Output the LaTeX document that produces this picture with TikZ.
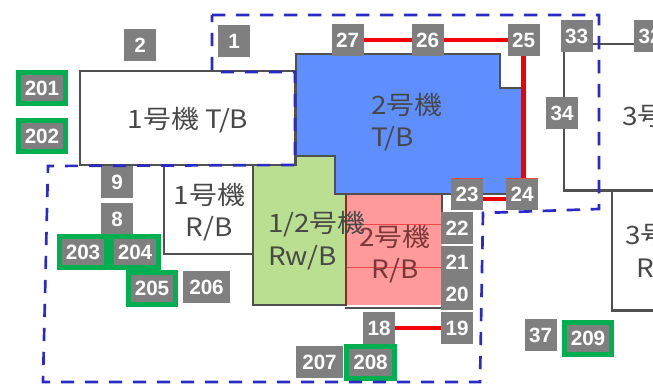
\documentclass[tikz,border=0pt]{standalone}
\usepackage{fontspec}
\setmainfont[FakeStretch=1.1]{Noto Sans CJK JP}
\newfontfamily\labfont{Liberation Sans}
\definecolor{tagc}{HTML}{7F7F7F}
\definecolor{greenc}{HTML}{00B050}
\definecolor{wallc}{HTML}{505050}
\definecolor{textc}{HTML}{484848}
\definecolor{pinktext}{HTML}{7A3838}
\definecolor{dashc}{HTML}{2A2AC8}
\definecolor{redc}{HTML}{F00000}
\definecolor{blueb}{HTML}{5F8FFF}
\definecolor{greenb}{HTML}{BADF90}
\definecolor{pinkb}{HTML}{FF9A9A}
\definecolor{hairc}{HTML}{F04848}
\definecolor{pinkwall}{HTML}{8B2A2A}
\tikzset{x=0.75pt,y=-0.75pt,
  tag/.style={fill=tagc,text=white,inner sep=0pt,outer sep=0pt,minimum width=#1*0.75pt,minimum height=32*0.75pt,font=\labfont\bfseries\fontsize{15.5}{15.5}\selectfont},
  tag/.default=32,
  gtag/.style={fill=tagc,draw=greenc,line width=3.4pt,text=white,inner sep=0pt,outer sep=0pt,minimum width=47.5*0.75pt,minimum height=31.5*0.75pt,font=\labfont\bfseries\fontsize{15.5}{15.5}\selectfont},
  bld/.style={draw=wallc,line width=2pt,line join=miter},
  title/.style={text=textc,font=\fontsize{19}{25.5}\selectfont,inner sep=0pt,outer sep=0pt},
  dashb/.style={draw=dashc,line width=2pt,dash pattern=on 10pt off 8pt},
  redl/.style={draw=redc,line width=3.4pt},
  hair/.style={draw=hairc,line width=0.4pt}}
\begin{document}
\begin{tikzpicture}
\useasboundingbox (0,0) rectangle (653,384);
% buildings
\draw[bld] (80,71) rectangle (295,165);
\draw[bld] (164,165) -- (164,254) -- (253,254);
\draw[bld,fill=greenb] (253,165) -- (296,165) -- (296,156) -- (335,156) -- (335,194) -- (346,194) -- (346,305) -- (253,305) -- cycle;
\fill[pinkb] (346,194) rectangle (442,305.5);
\draw[draw=pinkwall,line width=1.3pt] (346,194) -- (346,306);
\draw[hair] (347,224) -- (442,224);
\draw[hair] (347,267) -- (442,267);
\draw[bld] (346,194) -- (442,194) -- (442,213);
\draw[bld] (345,308) -- (442,308);
\draw[bld,fill=blueb] (296,54) -- (500,54) -- (500,88) -- (523,88) -- (523,194) -- (335,194) -- (335,156) -- (296,156) -- cycle;
\draw[bld] (564,45) -- (564,190.5) -- (653,190.5);
\draw[bld] (612,190.5) -- (612,310.5) -- (653,310.5);
% titles
\node[title,anchor=center] (t1) at (188,120) {1号機 T/B};
\node[title,anchor=west] (t2a) at (371,105) {2号機};
\node[title,anchor=west] (t2b) at (371,139) {T/B};
\node[title,anchor=center] (t3a) at (209.5,195) {1号機};
\node[title,anchor=center] (t3b) at (209,229) {R/B};
\node[title,anchor=west] (t4a) at (268,224) {1/2号機};
\node[title,anchor=west] (t4b) at (268,258) {Rw/B};
\node[title,anchor=center,text=pinktext] (t5a) at (395,237) {2号機};
\node[title,anchor=center,text=pinktext] (t5b) at (395,271) {R/B};
\node[title,anchor=west] (t6) at (622,116) {3号機};
\node[title,anchor=west] (t7a) at (625,235) {3号機};
\node[title,anchor=west] (t7b) at (636,270) {R/B};
% tags
\node[tag] (n1) at (234,41) {1};
\node[tag] (n2) at (140,45) {2};
\node[tag] (n9) at (117,182.5) {9};
\node[tag=32] (n8) at (117,219) {8};
\node[tag=47] (n206) at (206.5,287.5) {206};
\node[tag=47] (n207) at (319.5,362) {207};
\node[tag] (n18) at (379,328) {18};
\node[tag] (n19) at (457,328) {19};
\node[tag] (n20) at (457,294) {20};
\node[tag] (n21) at (457,262) {21};
\node[tag] (n22) at (457,228.5) {22};
\node[tag] (n23) at (467,194) {23};
\node[tag] (n24) at (522,194) {24};
\node[tag] (n25) at (523.5,40) {25};
\node[tag] (n26) at (427.5,40) {26};
\node[tag] (n27) at (347.5,40) {27};
\node[tag] (n33) at (576.5,36) {33};
\node[tag] (n32) at (650,36) {32};
\node[tag] (n34) at (562,113) {34};
\node[tag] (n37) at (540.5,335) {37};
\node[gtag] (n201) at (42,88) {201};
\node[gtag] (n202) at (42,136) {202};
\node[gtag] (n203) at (83,252) {203};
\node[gtag] (n204) at (135,252) {204};
\node[gtag] (n205) at (152,288.5) {205};
\node[gtag] (n208) at (370.5,362.5) {208};
\node[gtag] (n209) at (588,338.5) {209};
% thin outlines on 23, 24
\draw[hair] (n23.north west) -- (n23.north east);
\draw[hair] (n24.north west) -- (n24.north east);
% connectors
\draw[redl] (n27) -- (n26);
\draw[redl] (n26) -- (n25);
\draw[redl] (n25.south) -- (n25.south |- n24.north);
\draw[redl] ([yshift=-3.75pt]n23.east) -- ([yshift=-3.75pt]n24.west);
\draw[redl] (n18) -- (n19);
\draw[bld] ([yshift=-6pt]n33.east) -- ([yshift=-6pt]n32.west);
% dashed
\draw[dashb] (212,15) -- (599,15) -- (599,209) -- (483,213) -- (480,382) -- (43,382) -- (48,166) -- (295,165) -- (295,72) -- (212,72) -- cycle;
\end{tikzpicture}
\end{document}
